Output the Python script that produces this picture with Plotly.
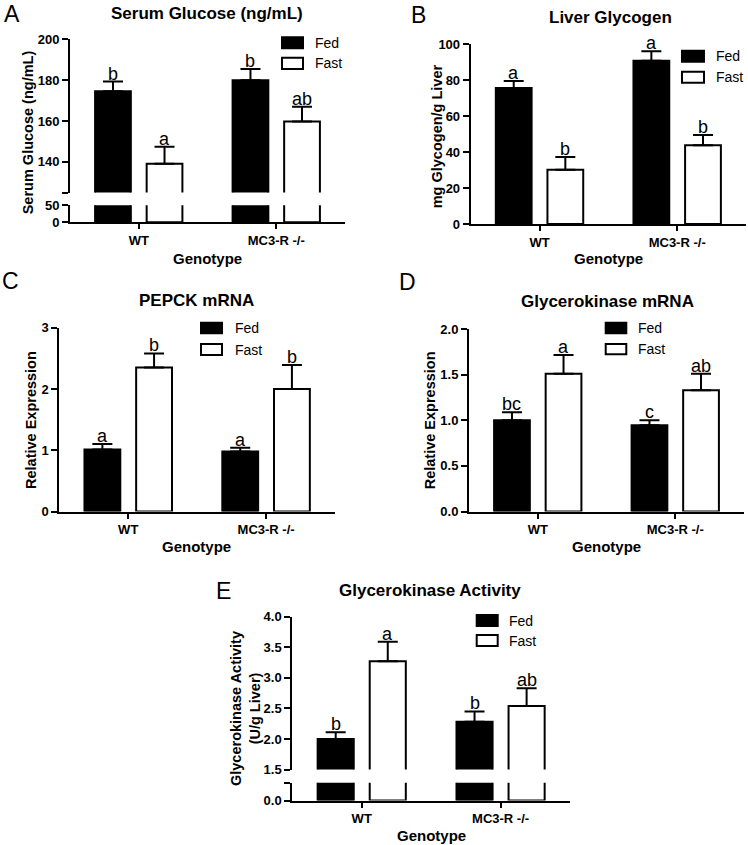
import plotly.graph_objects as go

# ---------------- data ----------------
genotypes = ["WT", "MC3-R -/-"]
conditions = ["Fed", "Fast"]

# A: Serum glucose
glucose_fed = [174.6, 180.0]
glucose_fed_sem = [4.7, 5.4]
glucose_fed_sig = ["b", "b"]
glucose_fast = [139.1, 159.7]
glucose_fast_sem = [8.3, 7.3]
glucose_fast_sig = ["a", "ab"]

# B: Liver glycogen
glycogen_fed = [75.7, 90.9]
glycogen_fed_sem = [3.9, 5.2]
glycogen_fed_sig = ["a", "a"]
glycogen_fast = [30.2, 43.8]
glycogen_fast_sem = [7.1, 5.7]
glycogen_fast_sig = ["b", "b"]

# C: PEPCK mRNA
pepck_fed = [1.01, 0.98]
pepck_fed_sem = [0.09, 0.06]
pepck_fed_sig = ["a", "a"]
pepck_fast = [2.35, 2.00]
pepck_fast_sem = [0.23, 0.39]
pepck_fast_sig = ["b", "b"]

# D: Glycerokinase mRNA
gkmrna_fed = [1.00, 0.945]
gkmrna_fed_sem = [0.088, 0.055]
gkmrna_fed_sig = ["bc", "c"]
gkmrna_fast = [1.51, 1.33]
gkmrna_fast_sem = [0.205, 0.18]
gkmrna_fast_sig = ["a", "ab"]

# E: Glycerokinase activity
gkact_fed = [2.00, 2.28]
gkact_fed_sem = [0.11, 0.17]
gkact_fed_sig = ["b", "b"]
gkact_fast = [3.27, 2.54]
gkact_fast_sem = [0.32, 0.29]
gkact_fast_sig = ["a", "ab"]

# ---------------- helpers ----------------
W, H = 748, 845
FONT = "Liberation Sans, Arial, Helvetica, sans-serif"
BAR_OFF = 0.1875
BAR_W = 0.26


def fx(p):
    return p / W


def fy(p):
    return 1 - p / H


fig = go.Figure()
layout = {}
annotations = []
shapes = []
counter = [0]


def ref(n):
    return ("x" if n == 1 else f"x{n}"), ("y" if n == 1 else f"y{n}")


def add_axes(xpx, ypx, yrange, tickvals, ticktext, show_x=True):
    counter[0] += 1
    n = counter[0]
    xr, yr = ref(n)
    xkey = "xaxis" if n == 1 else f"xaxis{n}"
    ykey = "yaxis" if n == 1 else f"yaxis{n}"
    layout[xkey] = dict(
        domain=[fx(xpx[0]), fx(xpx[1])], range=[-0.5, 1.5], anchor=yr,
        visible=show_x, showline=True, linewidth=2, linecolor="black",
        ticks="outside", ticklen=5, tickwidth=2, tickcolor="black",
        tickvals=list(range(len(genotypes))), ticktext=genotypes,
        tickfont=dict(size=13, weight="bold", family=FONT, color="black"),
        showgrid=False, zeroline=False, fixedrange=True, automargin=False,
    )
    layout[ykey] = dict(
        domain=[fy(ypx[1]), fy(ypx[0])], range=yrange, anchor=xr,
        showline=True, linewidth=2, linecolor="black",
        ticks="outside", ticklen=6, tickwidth=2, tickcolor="black",
        tickvals=tickvals, ticktext=ticktext,
        tickfont=dict(size=13, weight="bold", family=FONT, color="black"),
        showgrid=False, zeroline=False, fixedrange=True, automargin=False,
    )
    return n


def add_bars(n, fed, fed_sem, fast, fast_sem, errors=True):
    xr, yr = ref(n)
    idx = range(len(genotypes))
    for vals, sem, off, fill in ((fed, fed_sem, -BAR_OFF, "black"),
                                 (fast, fast_sem, BAR_OFF, "white")):
        err = None
        if errors:
            err = dict(type="data", array=sem, arrayminus=[0] * len(sem),
                       symmetric=False, color="black", thickness=2, width=10)
        fig.add_trace(go.Bar(
            x=[i + off for i in idx], y=vals, width=BAR_W,
            marker=dict(color=fill, line=dict(color="black", width=2)),
            error_y=err, xaxis=xr, yaxis=yr, showlegend=False,
            hoverinfo="skip",
        ))


def add_letters(n, vals, sem, sig, off):
    xr, yr = ref(n)
    for i, (v, s, t) in enumerate(zip(vals, sem, sig)):
        annotations.append(dict(
            x=i + off, y=v + s, xref=xr, yref=yr, text=t, showarrow=False,
            xanchor="center", yanchor="bottom", yshift=-4,
            font=dict(size=18, family=FONT, color="black"),
        ))


def text(x, y, t, size, bold=False, angle=0, xanchor="center"):
    annotations.append(dict(
        x=fx(x), y=fy(y), xref="paper", yref="paper", text=t,
        showarrow=False, xanchor=xanchor, yanchor="middle", textangle=angle,
        font=dict(size=size, family=FONT, color="black",
                  weight="bold" if bold else "normal"),
    ))


def legend(x_box, x_text, y_fed, y_fast):
    for (y0, y1), fill, lab in ((y_fed, "black", conditions[0]),
                                (y_fast, "white", conditions[1])):
        shapes.append(dict(type="rect", xref="paper", yref="paper",
                           x0=fx(x_box[0]), x1=fx(x_box[1]), y0=fy(y1), y1=fy(y0),
                           fillcolor=fill, line=dict(color="black", width=2)))
        text(x_text, (y0 + y1) / 2, lab, 14, xanchor="left")


# ---------------- Panel A (broken axis) ----------------
a_top = add_axes((70, 345), (39.3, 192.5), [125, 200],
                 [125, 140, 160, 180, 200], ["", "140", "160", "180", "200"], show_x=False)
add_bars(a_top, glucose_fed, glucose_fed_sem, glucose_fast, glucose_fast_sem)
a_bot = add_axes((70, 345), (205.2, 222.3), [0, 50], [0, 50], ["0", "50"])
add_bars(a_bot, glucose_fed, glucose_fed_sem, glucose_fast, glucose_fast_sem, errors=False)
add_letters(a_top, glucose_fed, glucose_fed_sem, glucose_fed_sig, -BAR_OFF)
add_letters(a_top, glucose_fast, glucose_fast_sem, glucose_fast_sig, BAR_OFF)
text(11.5, 14.5, "A", 23)
text(207, 13.5, "Serum Glucose (ng/mL)", 17, bold=True)
text(28.3, 132, "Serum Glucose (ng/mL)", 14.5, bold=True, angle=-90)
text(207.5, 258, "Genotype", 15, bold=True)
legend((282, 303), 313, (37.3, 48.3), (57.7, 69))

# ---------------- Panel B ----------------
b = add_axes((470.7, 746), (44.3, 224), [0, 100],
             [0, 20, 40, 60, 80, 100], ["0", "20", "40", "60", "80", "100"])
add_bars(b, glycogen_fed, glycogen_fed_sem, glycogen_fast, glycogen_fast_sem)
add_letters(b, glycogen_fed, glycogen_fed_sem, glycogen_fed_sig, -BAR_OFF)
add_letters(b, glycogen_fast, glycogen_fast_sem, glycogen_fast_sig, BAR_OFF)
text(418.7, 15, "B", 23)
text(610, 17, "Liver Glycogen", 17, bold=True)
text(437.3, 136, "mg Glycogen/g Liver", 14.5, bold=True, angle=-90)
text(608, 258, "Genotype", 15, bold=True)
legend((682, 704), 714, (50.7, 61.7), (71.7, 82.7))

# ---------------- Panel C ----------------
c = add_axes((59.3, 335), (327.7, 511.5), [0, 3],
             [0, 1, 2, 3], ["0", "1", "2", "3"])
add_bars(c, pepck_fed, pepck_fed_sem, pepck_fast, pepck_fast_sem)
add_letters(c, pepck_fed, pepck_fed_sem, pepck_fed_sig, -BAR_OFF)
add_letters(c, pepck_fast, pepck_fast_sem, pepck_fast_sig, BAR_OFF)
text(10, 281, "C", 23)
text(196.7, 300, "PEPCK mRNA", 17, bold=True)
text(31, 420, "Relative Expression", 14.5, bold=True, angle=-90)
text(196.5, 546.5, "Genotype", 15, bold=True)
legend((201, 222), 233, (322.7, 333.3), (344, 355))

# ---------------- Panel D ----------------
d = add_axes((469, 744), (329, 511.5), [0, 2],
             [0, 0.5, 1.0, 1.5, 2.0], ["0.0", "0.5", "1.0", "1.5", "2.0"])
add_bars(d, gkmrna_fed, gkmrna_fed_sem, gkmrna_fast, gkmrna_fast_sem)
add_letters(d, gkmrna_fed, gkmrna_fed_sem, gkmrna_fed_sig, -BAR_OFF)
add_letters(d, gkmrna_fast, gkmrna_fast_sem, gkmrna_fast_sig, BAR_OFF)
text(408, 281.7, "D", 23)
text(607, 301.7, "Glycerokinase mRNA", 17, bold=True)
text(430, 420.3, "Relative Expression", 14.5, bold=True, angle=-90)
text(606, 546.5, "Genotype", 15, bold=True)
legend((605.7, 626.3), 635.7, (322.7, 333.3), (344, 354.3))

# ---------------- Panel E (broken axis) ----------------
e_top = add_axes((292.3, 570), (616.7, 769.5), [1.5, 4.0],
                 [1.5, 2.0, 2.5, 3.0, 3.5, 4.0],
                 ["1.5", "2.0", "2.5", "3.0", "3.5", "4.0"], show_x=False)
add_bars(e_top, gkact_fed, gkact_fed_sem, gkact_fast, gkact_fast_sem)
e_bot = add_axes((292.3, 570), (782.7, 800.5), [0, 0.5], [0, 0.5], ["0.0", ""])
add_bars(e_bot, gkact_fed, gkact_fed_sem, gkact_fast, gkact_fast_sem, errors=False)
add_letters(e_top, gkact_fed, gkact_fed_sem, gkact_fed_sig, -BAR_OFF)
add_letters(e_top, gkact_fast, gkact_fast_sem, gkact_fast_sig, BAR_OFF)
text(223, 590.5, "E", 23)
text(430, 590, "Glycerokinase Activity", 17, bold=True)
text(245, 708, "Glycerokinase Activity<br>(U/g Liver)", 14.5, bold=True, angle=-90)
text(431, 835, "Genotype", 15, bold=True)
legend((476.7, 497.7), 507, (615, 626), (635, 646))

fig.update_layout(
    width=W, height=H, margin=dict(l=0, r=0, t=0, b=0, pad=0, autoexpand=False),
    paper_bgcolor="white", plot_bgcolor="white", showlegend=False,
    barmode="overlay", font=dict(family=FONT, color="black"),
    annotations=annotations, shapes=shapes, **layout,
)

fig.write_html(
    "out.html",
    config={"displayModeBar": False, "staticPlot": True},
    post_script="document.body.style.margin='0px';document.body.style.overflow='hidden';",
)
